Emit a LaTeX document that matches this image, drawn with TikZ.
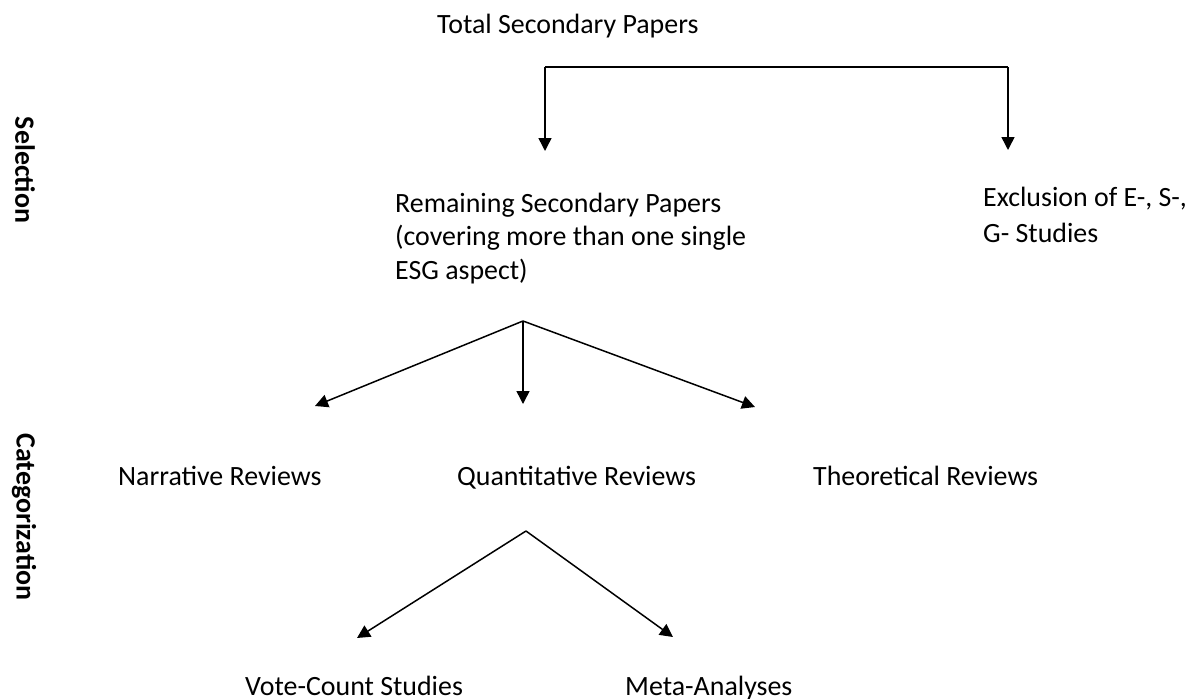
\documentclass[tikz,border=0pt]{standalone}
\usepackage{fontspec}
\setmainfont{Carlito}
\usetikzlibrary{arrows.meta}
\begin{document}
\begin{tikzpicture}[x=1pt,y=-1pt,
  txt/.style={font=\fontsize{27.9}{34}\selectfont, inner sep=0pt, anchor=base west},
  mtxt/.style={inner sep=0pt, anchor=north west, align=left},
  side/.style={font=\fontsize{27.9}{34}\selectfont\bfseries, inner sep=0pt, rotate=-90},
  arr/.style={line width=1.5pt, -{Triangle[width=13pt,length=13pt]}},
  ln/.style={line width=1.5pt}]
\useasboundingbox (0,0) rectangle (1195,699);

% texts
\node[txt] (total) at (437,33) {Total Secondary Papers};
\node[mtxt, font=\fontsize{27.9}{33.5}\selectfont] (remain) at (395,188)
  {\rule{0pt}{24pt}Remaining Secondary Papers\\(covering more than one single\\ESG aspect)};
\node[mtxt, font=\fontsize{27.9}{36}\selectfont] (excl) at (983,182)
  {\rule{0pt}{24pt}Exclusion of E-, S-,\\G- Studies};
\node[txt] (narr) at (118,485) {Narrative Reviews};
\node[txt] (quant) at (457,485) {Quantitative Reviews};
\node[txt] (theo) at (813,485) {Theoretical Reviews};
\node[txt] (vote) at (245,695) {Vote-Count Studies};
\node[txt] (meta) at (625,695) {Meta-Analyses};
\node[side] (sel) at (25,170) {Selection};
\node[side] (cat) at (24,517) {Categorization};

% connector points
\coordinate (brL) at (545,67);
\coordinate (brR) at (1008,67);
\coordinate (tipRem) at (545,151);
\coordinate (tipExc) at (1008,150);
\coordinate (f1) at (523,321);
\coordinate (tNarr) at (315,406);
\coordinate (tQuant) at (523,404);
\coordinate (tTheo) at (755,407);
\coordinate (f2) at (526,531);
\coordinate (tVote) at (357,638);
\coordinate (tMeta) at (673,637);

% selection bracket
\draw[arr] (brL) -- (tipRem);
\draw[ln] (brL) -- (brR);
\draw[arr] (brR) -- (tipExc);

% categorization
\draw[arr] (f1) -- (tNarr);
\draw[arr] (f1) -- (tQuant);
\draw[arr] (f1) -- (tTheo);
\draw[arr] (f2) -- (tVote);
\draw[arr] (f2) -- (tMeta);
\end{tikzpicture}
\end{document}
